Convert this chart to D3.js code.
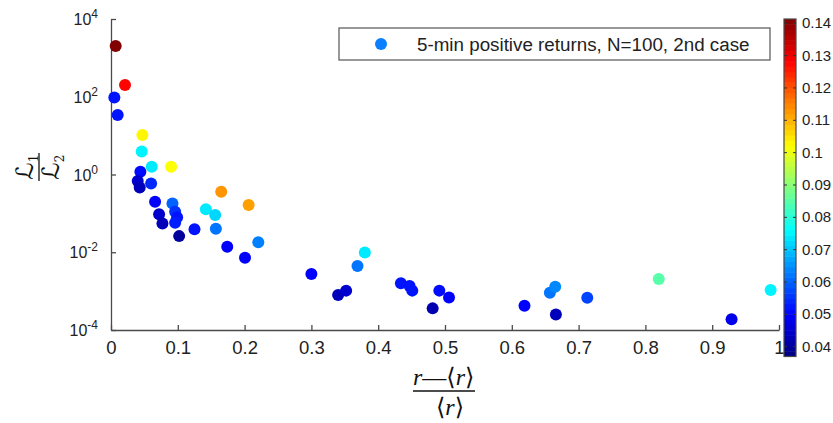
<!DOCTYPE html>
<html><head><meta charset="utf-8">
<script src="https://cdn.jsdelivr.net/npm/d3@7"></script>
<style>body{margin:0;background:#fff}svg{display:block}</style>
</head><body>
<svg id="c" width="833" height="423"></svg>
<script>
// ---- data ----
const xValues = [0.007,0.021,0.005,0.010,0.047,0.046,0.061,0.090,0.044,0.040,0.060,0.043,0.165,0.206,0.066,0.092,0.142,0.156,0.072,0.096,0.099,0.077,0.096,0.102,0.125,0.157,0.174,0.2205,0.2006,0.300,0.380,0.369,0.340,0.352,0.434,0.447,0.451,0.4915,0.506,0.4815,0.619,0.657,0.665,0.666,0.713,0.820,0.9875,0.929];
const yValues = [2020,200,95,34,10.4,3.9,1.58,1.58,1.18,0.68,0.59,0.46,0.36,0.164,0.20,0.18,0.127,0.091,0.095,0.11,0.080,0.055,0.057,0.026,0.039,0.040,0.0139,0.018,0.0072,0.00275,0.0098,0.0044,0.00079,0.00103,0.0016,0.00135,0.00103,0.00103,0.00069,0.00036,0.00042,0.00091,0.0013,0.00025,0.00068,0.00205,0.00107,0.00019];
const cValues = [0.141,0.128,0.052,0.052,0.103,0.075,0.074,0.102,0.051,0.045,0.054,0.043,0.113,0.112,0.050,0.060,0.074,0.072,0.045,0.055,0.052,0.043,0.053,0.040,0.052,0.062,0.050,0.063,0.050,0.050,0.074,0.062,0.043,0.045,0.052,0.052,0.052,0.051,0.050,0.042,0.050,0.062,0.064,0.043,0.057,0.085,0.075,0.048];
const xTicks = [0,0.1,0.2,0.3,0.4,0.5,0.6,0.7,0.8,0.9,1];
const yTickExps = [-4,-2,0,2,4];
const cTicks = [0.04,0.05,0.06,0.07,0.08,0.09,0.1,0.11,0.12,0.13,0.14];
const colorRange = [0.03697,0.14133];
const legendLabel = "5-min positive returns, N=100, 2nd case";

// ---- jet colormap ----
function jet(t){
  const cl=v=>Math.max(0,Math.min(1,v));
  const r=cl(1.5-Math.abs(4*t-3)), g=cl(1.5-Math.abs(4*t-2)), b=cl(1.5-Math.abs(4*t-1));
  return d3.rgb(r*255,g*255,b*255).formatHex();
}
const svg=d3.select("#c");
const axisColor="#4a4a4a";
const x=d3.scaleLinear().domain([0,1]).range([111,779]);
const y=d3.scaleLog().domain([1e-4,1e4]).range([330,19]);
const cNorm=d3.scaleLinear().domain(colorRange).range([0,1]).clamp(true);
const col=v=>jet(cNorm(v));

// axes
const gx=svg.append("g").attr("transform","translate(0,330)")
  .call(d3.axisBottom(x).tickValues(xTicks).tickSizeInner(-5).tickSizeOuter(0).tickPadding(11)
    .tickFormat(d=>d===0?"0":d===1?"1":d3.format(".1f")(d)));
gx.select(".domain").attr("stroke",axisColor).attr("stroke-width",1.3);
gx.selectAll(".tick line").attr("stroke",axisColor).attr("stroke-width",1.3);
gx.selectAll("text").attr("font-family","Liberation Sans, Arial, sans-serif").attr("font-size",18.5).attr("fill","#222");

const gy=svg.append("g").attr("transform","translate(111,0)")
  .call(d3.axisLeft(y).tickValues(yTickExps.map(e=>Math.pow(10,e))).tickSizeInner(-5).tickSizeOuter(0).tickFormat(""));
gy.select(".domain").attr("stroke",axisColor).attr("stroke-width",1.3);
gy.selectAll(".tick line").attr("stroke",axisColor).attr("stroke-width",1.3);
yTickExps.forEach(e=>{
  const yy=y(Math.pow(10,e));
  const t=svg.append("text").attr("x",98).attr("y",yy+6).attr("text-anchor","end")
    .attr("font-family","Liberation Sans, Arial, sans-serif").attr("font-size",16).attr("fill","#222");
  t.append("tspan").text("10");
  t.append("tspan").attr("font-size",12).attr("dy",-7).text(e<0?"-"+Math.abs(e):String(e));
});

// points
svg.append("g").selectAll("circle").data(xValues.map((v,i)=>({x:v,y:yValues[i],c:cValues[i]})))
  .join("circle").attr("cx",d=>x(d.x)).attr("cy",d=>y(d.y)).attr("r",6).attr("fill",d=>col(d.c));

// colorbar
const cy=d3.scaleLinear().domain(colorRange).range([356.5,19]);
const nBands=64;
const bands=d3.range(nBands);
const cb=svg.append("g");
cb.selectAll("rect").data(bands).join("rect")
  .attr("x",784).attr("width",12)
  .attr("y",i=>cy(colorRange[0]+(i+1)*(colorRange[1]-colorRange[0])/nBands))
  .attr("height",i=>cy(colorRange[0]+i*(colorRange[1]-colorRange[0])/nBands)-cy(colorRange[0]+(i+1)*(colorRange[1]-colorRange[0])/nBands)+0.5)
  .attr("fill",i=>jet((i+0.5)/nBands));
cb.append("rect").attr("x",784).attr("y",19).attr("width",12).attr("height",337.5)
  .attr("fill","none").attr("stroke",axisColor).attr("stroke-width",1.2);
cTicks.forEach(v=>{
  const yy=cy(v);
  cb.append("line").attr("x1",784).attr("x2",787).attr("y1",yy).attr("y2",yy).attr("stroke","#333");
  cb.append("line").attr("x1",793).attr("x2",796).attr("y1",yy).attr("y2",yy).attr("stroke","#333");
  cb.append("text").attr("x",802).attr("y",yy+5).attr("font-family","Liberation Sans, Arial, sans-serif")
    .attr("font-size",15).attr("fill","#222").text(d3.format("~g")(v));
});

// legend
const lg=svg.append("g");
lg.append("rect").attr("x",339).attr("y",28).attr("width",431).attr("height",32)
  .attr("fill","#fff").attr("stroke","#555").attr("stroke-width",1.2);
lg.append("circle").attr("cx",381).attr("cy",44).attr("r",6).attr("fill","#0a80ff");
lg.append("text").attr("x",417).attr("y",51).attr("font-family","Liberation Sans, Arial, sans-serif")
  .attr("font-size",18.8).attr("fill","#222").text(legendLabel);

// x label: (r - <r>) / <r>
const xl=svg.append("g").attr("font-family","Liberation Serif, DejaVu Serif, serif").attr("fill","#111");
const num=xl.append("text").attr("x",413).attr("y",385).attr("font-size",24);
num.append("tspan").attr("font-style","italic").text("r");
num.append("tspan").text("\u2014\u27E8");
num.append("tspan").attr("font-style","italic").text("r");
num.append("tspan").text("\u27E9");
xl.append("line").attr("x1",413).attr("x2",475).attr("y1",391).attr("y2",391).attr("stroke","#111").attr("stroke-width",1.3);
const den=xl.append("text").attr("x",450).attr("y",415).attr("font-size",24).attr("text-anchor","middle");
den.append("tspan").text("\u27E8");
den.append("tspan").attr("font-style","italic").text("r");
den.append("tspan").text("\u27E9");

// y label: L1 / L2 rotated
const yl=svg.append("g").attr("transform","translate(39,167) rotate(-90)")
  .attr("font-family","DejaVu Serif, DejaVu Sans, serif").attr("fill","#111");
const n1=yl.append("text").attr("x",0).attr("y",-6).attr("text-anchor","middle").attr("font-size",24);
n1.append("tspan").text("\u2112");
n1.append("tspan").attr("font-size",12).attr("dy",5).text("1");
yl.append("line").attr("x1",-14).attr("x2",14).attr("y1",0).attr("y2",0).attr("stroke","#111").attr("stroke-width",1.3);
const n2=yl.append("text").attr("x",0).attr("y",20).attr("text-anchor","middle").attr("font-size",24);
n2.append("tspan").text("\u2112");
n2.append("tspan").attr("font-size",12).attr("dy",5).text("2");
</script>
</body></html>
